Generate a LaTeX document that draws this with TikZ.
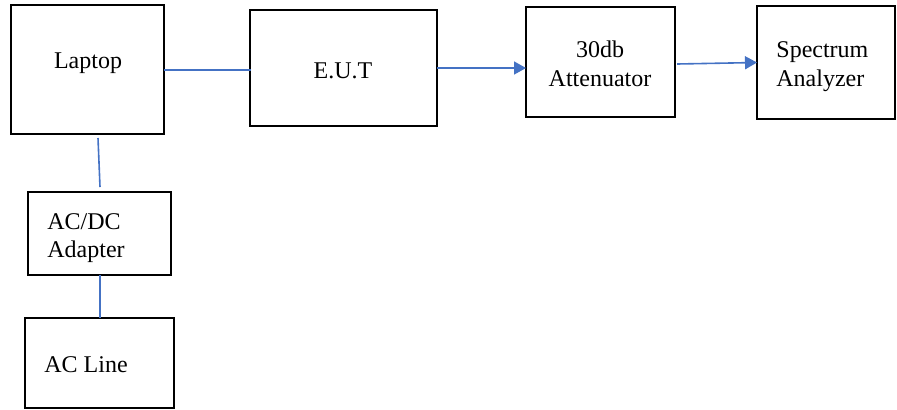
\documentclass[tikz,border=0pt]{standalone}
\usepackage{fontspec}
\setmainfont{Liberation Serif}
\usetikzlibrary{arrows.meta,calc}
\definecolor{lineblue}{HTML}{4472C4}
\begin{document}
\begin{tikzpicture}[x=0.5pt,y=-0.5pt,
  box/.style={draw=black,line width=0.55pt,rectangle,inner sep=0pt,outer sep=0pt},
  txt/.style={inner sep=0pt,font=\fontsize{12}{14}\selectfont},
  link/.style={draw=lineblue,line width=0.8pt},
  arr/.style={link,-{Triangle[length=6pt,width=6.5pt]}}]
\useasboundingbox (0,0) rectangle (897,409);
% boxes (sizes in pt = px/2)
\node[box,minimum width=76.5pt,minimum height=64.5pt] (lap) at (87.5,69.5) {};
\node[box,minimum width=93.5pt,minimum height=58pt] (eut) at (343.5,68) {};
\node[box,minimum width=74.5pt,minimum height=55pt] (att) at (600.5,62) {};
\node[box,minimum width=69pt,minimum height=56.5pt] (spec) at (826,62.5) {};
\node[box,minimum width=71.5pt,minimum height=41.5pt] (adp) at (99.5,233.5) {};
\node[box,minimum width=74.5pt,minimum height=45pt] (acl) at (99.5,363) {};
% texts
\node[txt,anchor=base] (laptopt) at (88,68) {Laptop};
\node[txt,anchor=base] (eutt) at (343,78) {E.U.T};
\node[txt,anchor=base] (att1) at (600,57) {30db};
\node[txt,anchor=base] (att2) at (600,86) {Attenuator};
\node[txt,anchor=base west] (spec1) at (776,57) {Spectrum};
\node[txt,anchor=base west] (spec2) at (776,86) {Analyzer};
\node[txt,anchor=base west] (ad1) at (47,229) {AC/DC};
\node[txt,anchor=base west] (ad2) at (47,257) {Adapter};
\node[txt,anchor=base west] (aclt) at (44,372) {AC Line};
% connectors
\draw[link] ($(lap.east)+(0,0.5)$) -- ($(eut.west)+(1,2)$);
\draw[arr] (eut.east) -- (att.west |- eut.east);
\draw[arr] ($(att.east)+(2,2)$) -- (spec.west);
\draw[link] ($(lap.south)+(10.5,4)$) -- ($(adp.north)+(0.5,-5)$);
\draw[link] ($(adp.south)+(0.5,0)$) -- ($(acl.north)+(0.5,0)$);
\end{tikzpicture}
\end{document}
